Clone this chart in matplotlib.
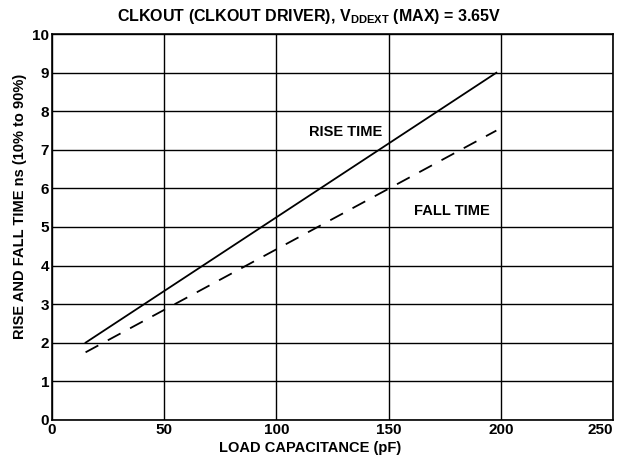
import matplotlib.pyplot as plt

plt.rcParams['font.family'] = ['Liberation Sans', 'DejaVu Sans']
plt.rcParams['font.weight'] = 'bold'
plt.rcParams['mathtext.fontset'] = 'custom'
plt.rcParams['mathtext.rm'] = 'Liberation Sans:bold'
plt.rcParams['mathtext.bf'] = 'Liberation Sans:bold'

# load capacitance (pF) vs. transition time (ns)
load_pf = [15, 198]
rise_ns = [2.0, 9.0]
fall_ns = [1.75, 7.5]

x_ticks = [0, 50, 100, 150, 200, 250]
y_ticks = list(range(0, 11))

fig = plt.figure(figsize=(6.18, 4.68), dpi=100)
ax = fig.add_axes([0.084, 0.103, 0.908, 0.824])

ax.plot(load_pf, rise_ns, color='black', lw=1.3)
ax.plot(load_pf, fall_ns, color='black', lw=1.3, dashes=(8, 6))

ax.set_xlim(0, 250)
ax.set_ylim(0, 10)
ax.set_xticks(x_ticks)
ax.set_yticks(y_ticks)
ax.grid(True, color='black', lw=1.0)
ax.tick_params(length=0, labelsize=11, pad=2)
for s in ax.spines.values():
    s.set_linewidth(1.2)
# keep the last x tick label inside the figure
ax.get_xticklabels()[-1].set_ha('right')

ax.text(131, 7.46, 'RISE TIME', fontsize=10.5, fontweight='bold', ha='center', va='center')
ax.text(178, 5.41, 'FALL TIME', fontsize=10.5, fontweight='bold', ha='center', va='center')

ax.set_xlabel('LOAD CAPACITANCE (pF)', fontsize=10.5, fontweight='bold')
ax.xaxis.set_label_coords(0.46, -0.055)
ax.set_ylabel('RISE AND FALL TIME ns (10% to 90%)', fontsize=10.5, fontweight='bold')
ax.yaxis.set_label_coords(-0.045, 0.554)

# figure-centred title
fig.text(0.5, 0.965, r'CLKOUT (CLKOUT DRIVER), V$_{\mathrm{DDEXT}}$ (MAX) = 3.65V',
         fontsize=11.5, fontweight='bold', ha='center', va='center')

fig.savefig('out.png', dpi=100)
